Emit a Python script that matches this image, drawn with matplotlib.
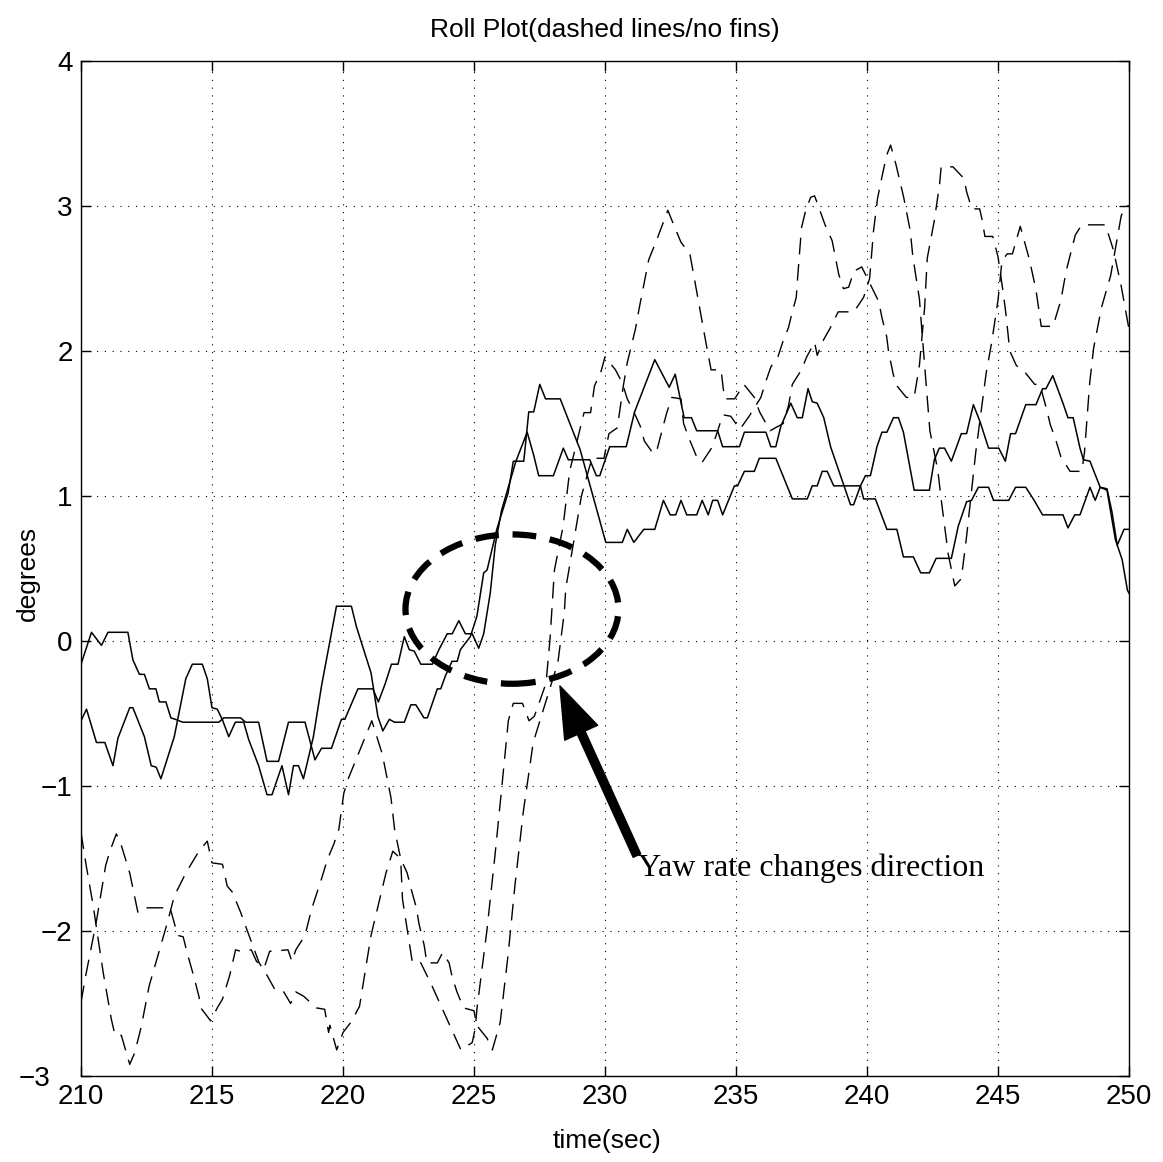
import numpy as np
import matplotlib.pyplot as plt
from matplotlib.patches import Ellipse, FancyArrowPatch
from matplotlib.transforms import ScaledTranslation

plt.rcParams['font.family'] = ['Liberation Sans', 'DejaVu Sans']

# (time, degrees)
solid_a = [(210.0, -0.16), (210.4, 0.06), (210.78, -0.03), (211.03, 0.06), (211.79, 0.06), (211.98, -0.13),
           (212.23, -0.23), (212.42, -0.23), (212.61, -0.33), (212.86, -0.33), (212.99, -0.42), (213.24, -0.42),
           (213.43, -0.53), (213.6, -0.54), (213.88, -0.56), (215.26, -0.56), (215.45, -0.53), (216.09, -0.53),
           (216.28, -0.56), (216.78, -0.56), (217.1, -0.83), (217.54, -0.83), (217.92, -0.56), (218.55, -0.56),
           (218.93, -0.82), (219.18, -0.74), (219.56, -0.74), (219.94, -0.54), (220.07, -0.54), (220.57, -0.33),
           (221.14, -0.33), (221.35, -0.42), (221.6, -0.3), (221.85, -0.16), (222.1, -0.16), (222.34, 0.03),
           (222.53, -0.06), (222.72, -0.07), (222.97, -0.16), (223.41, -0.16), (223.66, -0.06), (223.98, 0.05),
           (224.17, 0.05), (224.42, 0.14), (224.67, 0.05), (224.93, 0.05), (225.18, -0.05), (225.37, 0.05),
           (225.62, 0.33), (225.81, 0.66), (226.05, 0.9), (226.6, 1.24), (227.03, 1.44), (227.28, 1.28),
           (227.47, 1.14), (228.03, 1.14), (228.41, 1.33), (228.6, 1.25), (229.42, 1.25), (229.67, 1.14),
           (229.8, 1.14), (230.18, 1.34), (230.81, 1.34), (231.13, 1.58), (231.9, 1.94), (232.45, 1.75),
           (232.68, 1.84), (233.02, 1.54), (233.3, 1.54), (233.5, 1.45), (234.3, 1.45), (234.49, 1.34),
           (235.13, 1.34), (235.32, 1.44), (236.14, 1.44), (236.33, 1.34), (236.52, 1.34), (236.71, 1.48),
           (237.09, 1.64), (237.34, 1.54), (237.53, 1.54), (237.75, 1.74), (237.91, 1.65), (238.1, 1.64),
           (238.35, 1.54), (238.61, 1.34), (239.37, 0.94), (239.49, 0.94), (239.75, 1.07), (239.94, 1.14),
           (240.13, 1.14), (240.38, 1.34), (240.57, 1.44), (240.76, 1.44), (241.01, 1.54), (241.2, 1.54),
           (241.39, 1.44), (241.8, 1.04), (242.38, 1.04), (242.57, 1.25), (242.76, 1.33), (242.96, 1.33),
           (243.22, 1.24), (243.6, 1.43), (243.8, 1.43), (244.06, 1.63), (244.32, 1.51), (244.64, 1.33),
           (245.03, 1.33), (245.28, 1.24), (245.48, 1.43), (245.67, 1.43), (246.06, 1.63), (246.45, 1.63),
           (246.7, 1.74), (246.83, 1.74), (247.09, 1.83), (247.48, 1.64), (247.67, 1.54), (247.87, 1.54),
           (248.13, 1.33), (248.26, 1.25), (248.51, 1.24), (248.9, 1.06), (249.16, 1.04), (249.29, 0.9),
           (249.48, 0.7), (249.74, 0.56), (249.94, 0.35), (250.0, 0.33)]

solid_b = [(210.0, -0.55), (210.21, -0.47), (210.59, -0.70), (210.91, -0.70), (211.22, -0.86), (211.41, -0.67),
           (211.86, -0.46), (211.98, -0.46), (212.42, -0.66), (212.68, -0.86), (212.87, -0.87), (213.05, -0.95),
           (213.56, -0.66), (214.0, -0.26), (214.25, -0.16), (214.63, -0.16), (214.82, -0.26), (215.0, -0.46),
           (215.2, -0.47), (215.39, -0.54), (215.64, -0.66), (215.89, -0.56), (216.21, -0.56), (216.4, -0.68),
           (216.78, -0.86), (217.1, -1.06), (217.29, -1.06), (217.67, -0.86), (217.92, -1.06), (218.11, -0.86),
           (218.3, -0.86), (218.49, -0.95), (218.87, -0.66), (219.18, -0.31), (219.75, 0.24), (220.32, 0.24),
           (220.51, 0.1), (221.07, -0.22), (221.33, -0.52), (221.52, -0.62), (221.77, -0.54), (221.96, -0.56),
           (222.34, -0.56), (222.59, -0.44), (222.78, -0.44), (223.09, -0.53), (223.22, -0.53), (223.6, -0.33),
           (223.73, -0.33), (223.91, -0.24), (224.16, -0.14), (224.36, -0.14), (224.48, -0.06), (224.86, 0.03),
           (225.11, 0.17), (225.37, 0.47), (225.5, 0.49), (225.87, 0.77), (226.3, 1.02), (226.5, 1.24),
           (226.9, 1.24), (227.09, 1.58), (227.28, 1.58), (227.51, 1.77), (227.73, 1.67), (228.29, 1.67),
           (229.05, 1.32), (230.03, 0.68), (230.66, 0.68), (230.85, 0.77), (231.1, 0.68), (231.48, 0.77),
           (231.9, 0.77), (232.23, 0.97), (232.49, 0.87), (232.7, 0.87), (232.9, 0.97), (233.12, 0.87),
           (233.5, 0.87), (233.71, 0.97), (233.94, 0.87), (234.11, 0.97), (234.3, 0.97), (234.49, 0.87),
           (234.94, 1.07), (235.06, 1.07), (235.32, 1.17), (235.7, 1.17), (235.89, 1.26), (236.52, 1.26),
           (237.15, 0.98), (237.72, 0.98), (237.91, 1.07), (238.1, 1.07), (238.29, 1.17), (238.48, 1.17),
           (238.73, 1.07), (239.75, 1.07), (239.87, 0.98), (240.32, 0.98), (240.76, 0.77), (241.14, 0.77),
           (241.39, 0.58), (241.77, 0.58), (242.05, 0.47), (242.38, 0.47), (242.64, 0.57), (243.22, 0.57),
           (243.48, 0.79), (243.8, 0.96), (243.99, 0.97), (244.25, 1.06), (244.64, 1.06), (244.83, 0.97),
           (245.41, 0.97), (245.67, 1.06), (246.06, 1.06), (246.38, 0.97), (246.7, 0.87), (247.48, 0.87),
           (247.67, 0.78), (247.93, 0.87), (248.13, 0.87), (248.51, 1.06), (248.71, 0.97), (248.9, 1.06),
           (249.16, 1.05), (249.35, 0.89), (249.55, 0.66), (249.81, 0.77), (250.0, 0.77)]

dashed_a = [(210.0, -1.32), (210.2, -1.55), (210.47, -1.83), (210.6, -1.99), (210.85, -2.29), (211.16, -2.61),
            (211.3, -2.72), (211.54, -2.72), (211.86, -2.92), (212.05, -2.84), (212.3, -2.66), (212.6, -2.38),
            (213.0, -2.13), (213.3, -1.94), (213.56, -1.76), (214.0, -1.6), (214.5, -1.45), (214.82, -1.38),
            (215.0, -1.53), (215.4, -1.54), (215.58, -1.69), (215.77, -1.73), (216.09, -1.87), (216.27, -1.96),
            (216.8, -2.22), (217.05, -2.29), (217.42, -2.41), (217.74, -2.42), (218.0, -2.5), (218.2, -2.42),
            (218.5, -2.45), (218.98, -2.53), (219.3, -2.54), (219.45, -2.7), (219.5, -2.65), (219.76, -2.82),
            (220.0, -2.7), (220.3, -2.63), (220.63, -2.52), (221.07, -2.03), (221.64, -1.6), (221.9, -1.45),
            (222.2, -1.5), (222.45, -1.6), (222.6, -1.71), (222.8, -1.84), (222.9, -1.95), (223.1, -2.1),
            (223.2, -2.22), (223.6, -2.22), (223.8, -2.15), (224.05, -2.22), (224.17, -2.32), (224.35, -2.42),
            (224.6, -2.53), (225.0, -2.55), (225.1, -2.65), (225.5, -2.74), (225.7, -2.82), (226.0, -2.63),
            (226.31, -2.15), (226.56, -1.69), (226.88, -1.18), (227.26, -0.7), (227.5, -0.56), (227.77, -0.4),
            (228.2, -0.15), (228.3, -0.01), (228.45, 0.2), (228.5, 0.36), (228.65, 0.52), (228.95, 0.84),
            (229.1, 1.0), (229.5, 1.26), (229.96, 1.26), (230.15, 1.43), (230.47, 1.47), (230.7, 1.76),
            (230.85, 1.92), (231.16, 2.15), (231.3, 2.29), (231.67, 2.63), (231.96, 2.76), (232.4, 2.97),
            (232.6, 2.88), (232.9, 2.75), (233.24, 2.67), (233.46, 2.45), (233.6, 2.31), (233.9, 2.01),
            (234.05, 1.87), (234.43, 1.87), (234.56, 1.67), (234.95, 1.67), (235.3, 1.77), (235.7, 1.68),
            (235.9, 1.58), (236.3, 1.45), (236.8, 1.5), (237.0, 1.62), (237.15, 1.77), (237.5, 1.87),
            (237.7, 1.96), (238.0, 2.06), (238.1, 1.97), (238.35, 2.08), (238.6, 2.16), (238.9, 2.27),
            (239.5, 2.27), (239.87, 2.37), (240.1, 2.5), (240.25, 2.83), (240.4, 3.05), (240.57, 3.2),
            (240.75, 3.35), (240.9, 3.42), (241.1, 3.29), (241.4, 3.06), (241.65, 2.83), (241.75, 2.65),
            (242.0, 2.36), (242.2, 1.9), (242.4, 1.45), (242.7, 1.18), (242.85, 0.95), (243.1, 0.6),
            (243.35, 0.38), (243.6, 0.43), (243.8, 0.72), (244.15, 1.3), (244.55, 1.85), (244.75, 2.05),
            (245.0, 2.35), (245.15, 2.62), (245.35, 2.67), (245.55, 2.67), (245.85, 2.86), (246.2, 2.63),
            (246.45, 2.42), (246.65, 2.17), (247.1, 2.17), (247.4, 2.35), (247.6, 2.55), (247.95, 2.8),
            (248.2, 2.87), (249.1, 2.87), (249.4, 2.7), (249.7, 2.45), (250.0, 2.15)]

dashed_b = [(210.0, -2.49), (210.2, -2.29), (210.6, -1.92), (210.94, -1.55), (211.1, -1.45), (211.35, -1.33),
            (211.54, -1.41), (211.86, -1.6), (212.17, -1.87), (212.36, -1.84), (213.4, -1.84), (213.69, -2.03),
            (213.9, -2.04), (214.05, -2.15), (214.3, -2.31), (214.5, -2.45), (214.57, -2.53), (214.95, -2.62),
            (215.2, -2.53), (215.4, -2.47), (215.67, -2.31), (215.9, -2.13), (216.1, -2.14), (216.5, -2.13),
            (216.7, -2.21), (217.0, -2.25), (217.2, -2.14), (217.9, -2.13), (218.05, -2.21), (218.2, -2.13),
            (218.55, -2.03), (218.8, -1.85), (219.18, -1.64), (219.4, -1.51), (219.65, -1.4), (219.84, -1.3),
            (220.03, -1.05), (220.2, -0.95), (221.1, -0.55), (221.5, -0.78), (221.83, -1.08), (221.97, -1.3),
            (222.2, -1.5), (222.27, -1.78), (222.46, -2.0), (222.65, -2.22), (222.97, -2.22), (223.4, -2.38),
            (223.9, -2.58), (224.4, -2.78), (224.5, -2.82), (224.93, -2.77), (225.05, -2.67), (225.11, -2.54),
            (225.49, -2.0), (225.8, -1.48), (226.06, -1.01), (226.31, -0.55), (226.5, -0.43), (226.85, -0.43),
            (227.1, -0.55), (227.3, -0.52), (227.5, -0.42), (227.75, -0.29), (227.9, 0.01), (228.07, 0.49),
            (228.4, 0.79), (228.65, 1.17), (229.2, 1.575), (229.45, 1.575), (229.6, 1.76), (229.85, 1.86),
            (230.0, 1.96), (230.4, 1.87), (230.66, 1.78), (230.85, 1.67), (231.1, 1.58), (231.35, 1.48),
            (231.5, 1.38), (231.85, 1.29), (232.0, 1.33), (232.35, 1.57), (232.55, 1.68), (232.9, 1.67),
            (233.0, 1.5), (233.2, 1.4), (233.5, 1.27), (233.7, 1.23), (234.1, 1.34), (234.5, 1.56),
            (234.8, 1.55), (235.15, 1.46), (235.5, 1.55), (235.95, 1.68), (236.1, 1.77), (236.33, 1.89),
            (236.6, 1.96), (236.8, 2.07), (237.0, 2.16), (237.15, 2.27), (237.3, 2.37), (237.35, 2.5),
            (237.5, 2.85), (237.66, 2.97), (237.85, 3.06), (238.0, 3.07), (238.2, 2.97), (238.4, 2.87),
            (238.67, 2.76), (238.8, 2.64), (238.92, 2.53), (239.1, 2.43), (239.3, 2.44), (239.5, 2.55),
            (239.8, 2.58), (240.1, 2.47), (240.45, 2.34), (240.57, 2.23), (240.75, 2.1), (240.82, 2.0),
            (241.0, 1.84), (241.14, 1.76), (241.5, 1.68), (241.8, 1.68), (242.0, 1.9), (242.2, 2.3),
            (242.3, 2.64), (242.57, 2.9), (242.77, 3.15), (242.83, 3.27), (243.28, 3.27), (243.7, 3.19),
            (243.8, 3.1), (244.0, 2.98), (244.3, 2.98), (244.4, 2.9), (244.5, 2.79), (244.8, 2.79),
            (245.0, 2.65), (245.2, 2.4), (245.3, 2.26), (245.45, 2.0), (245.7, 1.9), (246.0, 1.86),
            (246.4, 1.77), (246.6, 1.77), (246.85, 1.6), (247.0, 1.49), (247.2, 1.39), (247.4, 1.27),
            (247.75, 1.17), (248.2, 1.17), (248.3, 1.3), (248.5, 1.78), (248.65, 2.02), (248.95, 2.3),
            (249.3, 2.52), (249.7, 2.93), (249.85, 3.0), (250.0, 3.0)]

x_ticks = [210, 215, 220, 225, 230, 235, 240, 245, 250]
y_ticks = [-3, -2, -1, 0, 1, 2, 3, 4]

# circled region and the arrow pointing at it
circle_center = (226.45, 0.22)
circle_size = (8.13, 1.03)
arrow_tail = (231.22, -1.48)
arrow_tip = (228.28, -0.31)
note = "Yaw rate changes direction"

W, H = 1163, 1162
fig = plt.figure(figsize=(W / 100, H / 100), dpi=100)
ax = fig.add_axes([81 / W, 1 - 1076 / H, (1129 - 81) / W, (1076 - 61) / H])

for s in (solid_a, solid_b):
    a = np.array(s)
    ax.plot(a[:, 0], a[:, 1], color='black', lw=1.1)
for s in (dashed_a, dashed_b):
    a = np.array(s)
    ax.plot(a[:, 0], a[:, 1], color='black', lw=1.0, dashes=(12, 7))

ax.set_xlim(210, 250)
ax.set_ylim(-3, 4)
ax.set_xticks(x_ticks)
ax.set_yticks(y_ticks)
ax.grid(True, color='black', linestyle=(0, (1, 6)), lw=0.8)
ax.tick_params(direction='in', length=7, width=1, top=True, right=True, labelsize=20, pad=6)
for sp in ax.spines.values():
    sp.set_linewidth(1.0)

# the corner label "-3" sits further left, clear of "210"
lab = ax.yaxis.get_major_ticks()[0].label1
lab.set_transform(lab.get_transform() + ScaledTranslation(-0.22, 0, fig.dpi_scale_trans))

ax.add_patch(Ellipse(circle_center, circle_size[0], circle_size[1], fill=False,
                     color='black', lw=4.5, linestyle=(0, (3.8, 2.2))))
ax.add_patch(FancyArrowPatch(arrow_tail, arrow_tip,
                             arrowstyle='simple,head_length=3.7,head_width=2.6,tail_width=0.6',
                             mutation_scale=10, color='black', shrinkA=0, shrinkB=0))
ax.text(231.26, -1.464, note, family=['Liberation Serif', 'DejaVu Serif'], fontsize=23,
        ha='left', va='top')

fig.text(605 / W, 1 - 30 / H, "Roll Plot(dashed lines/no fins)", ha='center', va='center', fontsize=19)
fig.text(607 / W, 1 - 1141 / H, "time(sec)", ha='center', va='center', fontsize=19)
fig.text(28 / W, 1 - 573 / H, "degrees", ha='center', va='center', rotation=90, fontsize=19)

fig.savefig('out.png', dpi=100)
